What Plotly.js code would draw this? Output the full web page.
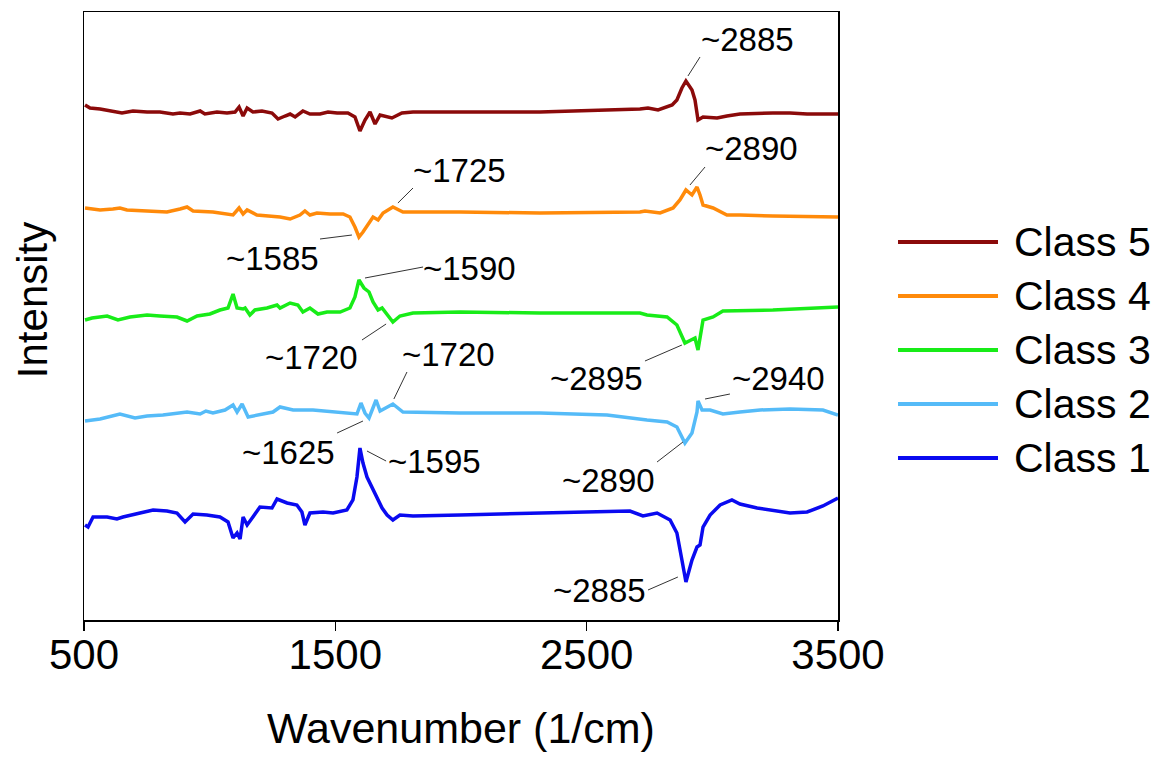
<!DOCTYPE html>
<html>
<head>
<meta charset="utf-8">
<script src="https://cdn.plot.ly/plotly-3.0.1.min.js"></script>
<style>
  html, body { margin: 0; padding: 0; background: #ffffff; }
  #chart { width: 1161px; height: 764px; }
</style>
</head>
<body>
<div id="chart"></div>
<script>
// ---- Data (wavenumber in 1/cm, stacked intensity in arbitrary units) ----
const classNames = ["Class 1", "Class 2", "Class 3", "Class 4", "Class 5"];
const classColors = ["#0A0AF0", "#55BBF8", "#18EC18", "#FF8A0A", "#8B0A0A"];

const class5Wn  = [504,524,564,615,651,695,751,802,854,882,922,962,981,1029,1069,1101,1117,1133,1149,1172,1208,1248,1272,1300,1320,1340,1371,1399,1439,1471,1507,1550,1578,1598,1618,1638,1658,1678,1725,1765,1809,1996,2314,2712,2744,2784,2840,2859,2879,2895,2919,2931,2943,2963,3019,3058,3110,3241,3309,3377,3500];
const class5Int = [515,512,511,509,507,509,508,508,506,507,506,509,506,508,507,508,513,504,512,508,509,507,501,504,506,503,509,506,506,508,507,507,503,489,500,508,496,505,502,507,508,508,508,511,512,510,515,520,532,539,530,520,500,503,502,504,506,507,507,506,506];

const class4Wn  = [504,564,615,643,671,751,830,882,910,934,1013,1093,1117,1133,1149,1188,1240,1280,1320,1359,1379,1399,1427,1479,1531,1558,1578,1594,1610,1630,1650,1670,1690,1729,1769,1996,2314,2712,2732,2792,2844,2871,2895,2919,2939,2951,2963,3003,3058,3110,3241,3500];
const class4Int = [412,410,411,412,410,409,408,411,413,409,408,405,412,406,410,405,404,403,401,405,409,405,407,406,406,403,393,383,388,395,403,400,407,413,408,408,407,408,409,407,412,420,430,425,433,425,415,412,405,405,404,403];

const class3Wn  = [504,532,592,635,683,751,802,870,910,950,1001,1041,1073,1093,1109,1133,1141,1160,1180,1228,1268,1280,1320,1351,1371,1399,1431,1467,1519,1558,1578,1594,1614,1634,1650,1670,1686,1706,1729,1757,1809,1996,2314,2712,2740,2820,2859,2891,2931,2943,2963,3003,3042,3241,3377,3500];
const class3Int = [300,302,304,300,303,305,304,303,299,304,306,310,312,326,312,311,312,305,310,312,315,312,317,315,308,312,306,308,308,312,323,340,332,328,318,310,312,305,298,304,307,308,307,307,305,303,295,277,282,270,300,303,309,310,312,313];

const class2Wn  = [504,564,643,703,751,814,910,962,985,1013,1061,1093,1109,1129,1153,1200,1252,1280,1332,1411,1491,1546,1586,1602,1618,1634,1662,1678,1729,1769,1996,2314,2581,2740,2820,2859,2891,2919,2939,2943,2959,2991,3042,3110,3190,3309,3440,3500];
const class2Int = [199,201,206,202,204,205,208,206,209,207,210,215,208,216,203,205,208,213,210,210,208,207,206,217,207,202,220,209,216,208,207,207,205,200,198,193,177,187,208,219,210,210,206,208,210,211,210,205];

const class1Wn  = [504,516,536,592,631,655,723,775,830,870,902,934,989,1041,1073,1093,1109,1121,1133,1149,1172,1200,1248,1268,1308,1347,1367,1379,1399,1451,1491,1546,1570,1586,1598,1610,1626,1646,1666,1686,1706,1729,1757,1809,1996,2314,2581,2672,2724,2780,2832,2859,2879,2895,2919,2939,2951,2963,2991,3031,3078,3110,3178,3241,3309,3377,3440,3500];
const class1Int = [95,93,103,103,101,103,107,110,109,107,98,106,105,103,98,82,87,81,103,95,103,113,112,121,117,115,108,95,107,108,107,110,120,143,172,157,143,133,123,112,105,100,105,104,105,107,108,109,104,107,100,87,60,38,60,73,75,93,105,115,120,116,112,110,107,108,114,122];

// Peak labels: text, label centre (wn, int), leader line from (wn, int) to (wn, int)
const peakLabels = ["~2885","~2890","~1725","~1585","~1590","~1720","~2895","~1720","~2940","~1625","~1595","~2890","~2885"];
const labelX     = [3138, 3154, 1996, 1248, 2032, 1407, 2541, 1952, 3265, 1312, 1893, 2585, 2553];
const labelY     = [581, 472, 450, 362, 352, 263, 242, 266, 242, 168, 159, 140, 30];
const leadX0     = [2951, 2971, 1809, 1439, 1849, 1606, 2732, 1785, 3070, 1507, 1702, 2780, 2744];
const leadY0     = [563, 453, 432, 381, 353, 280, 259, 248, 226, 187, 159, 158, 30];
const leadX1     = [2903, 2911, 1749, 1566, 1618, 1702, 2879, 1733, 2971, 1610, 1626, 2883, 2863];
const leadY1     = [544, 435, 417, 385, 342, 296, 275, 221, 221, 199, 169, 178, 43];

const xTicks = [500, 1500, 2500, 3500];

// ---- Build ----
const FONT = "Liberation Sans, Arial, Helvetica, sans-serif";
const wnSets  = [class1Wn, class2Wn, class3Wn, class4Wn, class5Wn];
const intSets = [class1Int, class2Int, class3Int, class4Int, class5Int];

const traces = classNames.map((name, i) => ({
  type: "scatter",
  mode: "lines",
  name: name,
  x: wnSets[i],
  y: intSets[i],
  line: { color: classColors[i], width: 3.5 },
  showlegend: false,
  hoverinfo: "x+name"
}));

const shapes = [];
const annotations = [];

peakLabels.forEach((t, i) => {
  annotations.push({
    x: labelX[i], y: labelY[i], xref: "x", yref: "y",
    text: t, showarrow: false, xanchor: "center", yanchor: "middle",
    font: { family: FONT, size: 33, color: "#000000" }
  });
  shapes.push({
    type: "line", xref: "x", yref: "y",
    x0: leadX0[i], y0: leadY0[i], x1: leadX1[i], y1: leadY1[i],
    line: { color: "#333333", width: 1 }
  });
});

// Manual legend (Class 5 at top down to Class 1)
const legendRowsY = [0.2664, 0.3553, 0.4441, 0.5329, 0.6217]; // Class1..Class5
classNames.forEach((name, i) => {
  shapes.push({
    type: "line", xref: "paper", yref: "paper",
    x0: 1.0796, x1: 1.2122, y0: legendRowsY[i], y1: legendRowsY[i],
    line: { color: classColors[i], width: 4 }
  });
  annotations.push({
    x: 1.2308, y: legendRowsY[i], xref: "paper", yref: "paper",
    text: name, showarrow: false, xanchor: "left", yanchor: "middle",
    font: { family: FONT, size: 41, color: "#000000" }
  });
});

// Y-axis title
annotations.push({
  x: -0.069, y: 0.526, xref: "paper", yref: "paper",
  text: "Intensity", textangle: -90, showarrow: false,
  xanchor: "center", yanchor: "middle",
  font: { family: FONT, size: 42, color: "#000000" }
});

const layout = {
  width: 1161, height: 764,
  margin: { l: 84, r: 323, t: 12, b: 144 },
  paper_bgcolor: "#ffffff", plot_bgcolor: "#ffffff",
  font: { family: FONT, color: "#000000" },
  showlegend: false,
  xaxis: {
    range: [500, 3500],
    tickmode: "array", tickvals: xTicks, ticktext: xTicks.map(String),
    ticks: "outside", ticklen: 9, tickwidth: 1.5, tickcolor: "#000000",
    ticklabelstandoff: -12,
    showline: true, linecolor: "#000000", linewidth: 1.5, mirror: true,
    showgrid: false, zeroline: false,
    tickfont: { family: FONT, size: 42, color: "#000000" },
    title: { text: "Wavenumber (1/cm)", font: { family: FONT, size: 43, color: "#000000" }, standoff: 36 }
  },
  yaxis: {
    range: [0, 608],
    showticklabels: false, ticks: "",
    showline: true, linecolor: "#000000", linewidth: 1.5, mirror: true,
    showgrid: false, zeroline: false
  },
  shapes: shapes,
  annotations: annotations
};

Plotly.newPlot("chart", traces, layout, { displayModeBar: false, staticPlot: true });
</script>
</body>
</html>
